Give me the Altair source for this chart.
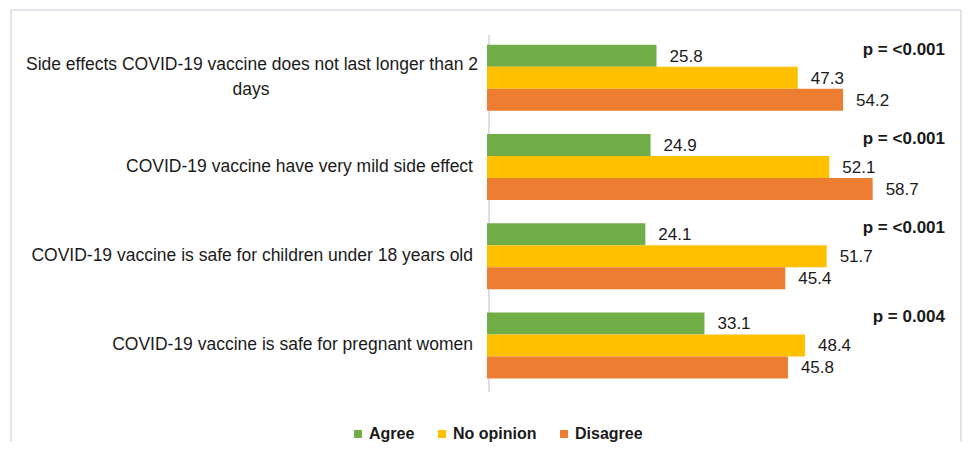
import altair as alt
import pandas as pd

categories = [
    "Side effects COVID-19 vaccine does not last longer than 2 days",
    "COVID-19 vaccine have very mild side effect",
    "COVID-19 vaccine is safe for children under 18 years old",
    "COVID-19 vaccine is safe for pregnant women",
]
label_first = [
    "Side effects COVID-19 vaccine does not last longer than 2",
    "COVID-19 vaccine have very mild side effect",
    "COVID-19 vaccine is safe for children under 18 years old",
    "COVID-19 vaccine is safe for pregnant women",
]
label_second = ["days", "", "", ""]
series = ["Agree", "No opinion", "Disagree"]
agree = [25.8, 24.9, 24.1, 33.1]
no_opinion = [47.3, 52.1, 51.7, 48.4]
disagree = [54.2, 58.7, 45.4, 45.8]
p_values = ["p = <0.001", "p = <0.001", "p = <0.001", "p = 0.004"]

colors = ["#70AD47", "#FFC000", "#ED7D31"]
FONT = "Liberation Sans"
TEXT_COLOR = "#1a1a1a"
FRAME = "#D6DBE4"

W, H = 950, 430
PX_PER_UNIT = 6.57
ZERO_PX = 476
x_domain = [-ZERO_PX / PX_PER_UNIT, (W - ZERO_PX) / PX_PER_UNIT]
P_X = 934

rows = []
for i, c in enumerate(categories):
    for s, vals in zip(series, [agree, no_opinion, disagree]):
        rows.append({"category": c, "series": s, "value": vals[i]})
df = pd.DataFrame(rows)

lab_rows = []
for i, c in enumerate(categories):
    if label_second[i]:
        lab_rows.append({"category": c, "text": label_first[i], "role": "first"})
        lab_rows.append({"category": c, "text": label_second[i], "role": "second"})
    else:
        lab_rows.append({"category": c, "text": label_first[i], "role": "single"})
lab_df = pd.DataFrame(lab_rows)

p_df = pd.DataFrame({"category": categories, "p": p_values, "series": ["Agree"] * 4})

y_enc = alt.Y("category:N", scale=alt.Scale(domain=categories, paddingInner=0.26,
                                            paddingOuter=0.539, align=0.36), axis=None)
yoff_enc = alt.YOffset("series:N", scale=alt.Scale(domain=series, paddingInner=0, paddingOuter=0))
x_enc = alt.X("value:Q", scale=alt.Scale(domain=x_domain, nice=False, zero=False), axis=None)

bars = alt.Chart(df).mark_bar().encode(
    x=x_enc,
    y=y_enc,
    yOffset=yoff_enc,
    color=alt.Color("series:N", scale=alt.Scale(domain=series, range=colors),
                    legend=alt.Legend(orient="none", legendX=339, legendY=416,
                                      direction="horizontal", title=None,
                                      symbolType="square", symbolSize=64,
                                      symbolStrokeWidth=0,
                                      labelFontSize=16, labelFontWeight="bold",
                                      labelFont=FONT, labelColor=TEXT_COLOR,
                                      columnPadding=19, labelOffset=3, padding=0)),
)

values = alt.Chart(df).mark_text(align="left", baseline="middle", dx=13, dy=1,
                                 fontSize=17, font=FONT, color=TEXT_COLOR).encode(
    x=x_enc,
    y=y_enc,
    yOffset=yoff_enc,
    text=alt.Text("value:Q", format=".1f"),
)

pvals = alt.Chart(p_df).mark_text(align="right", baseline="middle", dy=-6,
                                  fontSize=17, fontWeight="bold", font=FONT,
                                  color=TEXT_COLOR).encode(
    x=alt.value(P_X),
    y=y_enc,
    yOffset=yoff_enc,
    text="p:N",
)

LBL = 17.5
lab_single = alt.Chart(lab_df).transform_filter(alt.datum.role == "single").mark_text(
    align="right", baseline="middle", fontSize=LBL, font=FONT, color=TEXT_COLOR).encode(
    x=alt.value(462), y=y_enc, text="text:N")
lab_first = alt.Chart(lab_df).transform_filter(alt.datum.role == "first").mark_text(
    align="right", baseline="middle", dy=-13, fontSize=LBL, font=FONT, color=TEXT_COLOR).encode(
    x=alt.value(467), y=y_enc, text="text:N")
lab_second = alt.Chart(lab_df).transform_filter(alt.datum.role == "second").mark_text(
    align="center", baseline="middle", dy=12, fontSize=LBL, font=FONT, color=TEXT_COLOR).encode(
    x=alt.value(240), y=y_enc, text="text:N")

axis_line = alt.Chart(pd.DataFrame({"a": [0]})).mark_rule(color="#D0D5DE", strokeWidth=1.5).encode(
    x=alt.value(ZERO_PX + 2), y=alt.value(25), y2=alt.value(382))

frame_left = alt.Chart(pd.DataFrame({"a": [0]})).mark_rule(color=FRAME, strokeWidth=1.5).encode(
    x=alt.value(0), y=alt.value(0), y2=alt.value(H + 2))
frame_top = alt.Chart(pd.DataFrame({"a": [0]})).mark_rule(color=FRAME, strokeWidth=1.5).encode(
    y=alt.value(0), x=alt.value(0), x2=alt.value(W))
frame_right = alt.Chart(pd.DataFrame({"a": [0]})).mark_rule(color=FRAME, strokeWidth=1.5).encode(
    x=alt.value(W), y=alt.value(0), y2=alt.value(H + 2))

chart = alt.layer(
    frame_left, frame_top, frame_right, axis_line,
    bars, values, pvals, lab_single, lab_first, lab_second,
).properties(
    width=W, height=H,
    padding={"left": 3, "top": 2, "right": 1, "bottom": 2},
    autosize=alt.AutoSizeParams(type="none"),
    background="white",
).configure_view(stroke=None)

chart.save("out.html", embed_options={"renderer": "svg", "actions": False})
